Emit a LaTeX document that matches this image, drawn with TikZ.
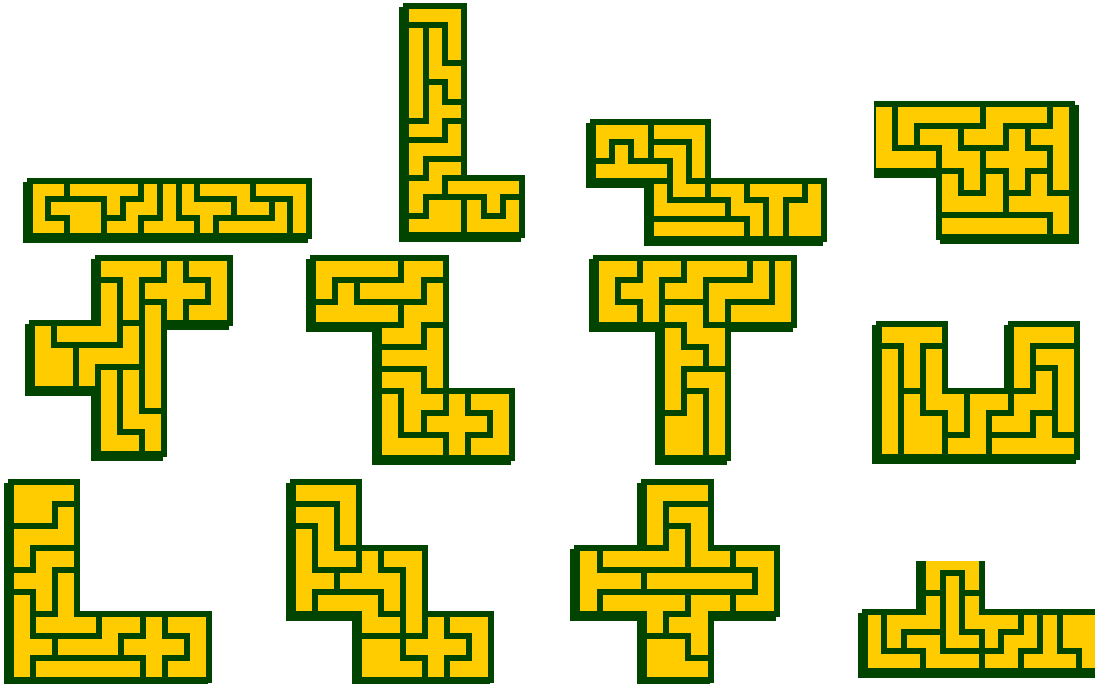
\documentclass[tikz,border=0pt]{standalone}
\definecolor{tileyellow}{HTML}{FFCC00}
\definecolor{wallgreen}{HTML}{004400}
\tikzset{
  tile/.style={fill=tileyellow, draw=wallgreen, line width=6pt, line join=miter},
  shade/.style={fill=wallgreen, draw=wallgreen, line width=6pt, line join=miter}
}
\begin{document}
\begin{tikzpicture}[x=1pt, y=-1pt]
\useasboundingbox (0,0) rectangle (1095,683);

% I scaled by 3
\begin{scope}[shift={(29.7,180.7)}, x=18.6pt, y=-18.45pt]
  \filldraw[shade, shift={(-4pt,-4pt)}] (0,0) -- (15,0) -- (15,3) -- (0,3) -- cycle;
  \filldraw[tile] (0,0) -- (2,0) -- (2,1) -- (1,1) -- (1,2) -- (2,2) -- (2,3) -- (0,3) -- cycle;
  \filldraw[tile] (1,1) -- (4,1) -- (4,3) -- (2,3) -- (2,2) -- (1,2) -- cycle;
  \filldraw[tile] (2,0) -- (6,0) -- (6,1) -- (5,1) -- (5,2) -- (4,2) -- (4,1) -- (2,1) -- cycle;
  \filldraw[tile] (6,0) -- (7,0) -- (7,2) -- (6,2) -- (6,3) -- (4,3) -- (4,2) -- (5,2) -- (5,1) -- (6,1) -- cycle;
  \filldraw[tile] (7,0) -- (8,0) -- (8,2) -- (9,2) -- (9,3) -- (6,3) -- (6,2) -- (7,2) -- cycle;
  \filldraw[tile] (8,0) -- (9,0) -- (9,1) -- (11,1) -- (11,2) -- (10,2) -- (10,3) -- (9,3) -- (9,2) -- (8,2) -- cycle;
  \filldraw[tile] (9,0) -- (12,0) -- (12,1) -- (13,1) -- (13,2) -- (11,2) -- (11,1) -- (9,1) -- cycle;
  \filldraw[tile] (13,1) -- (14,1) -- (14,3) -- (10,3) -- (10,2) -- (13,2) -- cycle;
  \filldraw[tile] (12,0) -- (15,0) -- (15,3) -- (14,3) -- (14,1) -- (12,1) -- cycle;
\end{scope}

% L scaled by 3
\begin{scope}[shift={(406.4,6)}, x=19.3pt, y=-19.1pt]
  \filldraw[shade, shift={(-4pt,-4pt)}] (0,0) -- (3,0) -- (3,9) -- (6,9) -- (6,12) -- (0,12) -- cycle;
  \filldraw[tile] (0,0) -- (3,0) -- (3,3) -- (2,3) -- (2,1) -- (0,1) -- cycle;
  \filldraw[tile] (0,1) -- (1,1) -- (1,6) -- (0,6) -- cycle;
  \filldraw[tile] (1,1) -- (2,1) -- (2,3) -- (3,3) -- (3,5) -- (2,5) -- (2,4) -- (1,4) -- cycle;
  \filldraw[tile] (1,4) -- (2,4) -- (2,5) -- (3,5) -- (3,6) -- (2,6) -- (2,7) -- (0,7) -- (0,6) -- (1,6) -- cycle;
  \filldraw[tile] (2,6) -- (3,6) -- (3,8) -- (1,8) -- (1,9) -- (0,9) -- (0,7) -- (2,7) -- cycle;
  \filldraw[tile] (1,8) -- (3,8) -- (3,9) -- (2,9) -- (2,10) -- (1,10) -- (1,11) -- (0,11) -- (0,9) -- (1,9) -- cycle;
  \filldraw[tile] (1,10) -- (3,10) -- (3,12) -- (0,12) -- (0,11) -- (1,11) -- cycle;
  \filldraw[tile] (2,9) -- (6,9) -- (6,10) -- (5,10) -- (5,11) -- (4,11) -- (4,10) -- (2,10) -- cycle;
  \filldraw[tile] (3,10) -- (4,10) -- (4,11) -- (5,11) -- (5,10) -- (6,10) -- (6,12) -- (3,12) -- cycle;
\end{scope}

% N scaled by 3
\begin{scope}[shift={(592.7,122.4)}, x=19.28pt, y=-19.37pt]
  \filldraw[shade, shift={(-4pt,-4pt)}] (0,0) -- (6,0) -- (6,3) -- (12,3) -- (12,6) -- (3,6) -- (3,3) -- (0,3) -- cycle;
  \filldraw[tile] (0,0) -- (3,0) -- (3,2) -- (2,2) -- (2,1) -- (1,1) -- (1,2) -- (0,2) -- cycle;
  \filldraw[tile] (1,1) -- (2,1) -- (2,2) -- (4,2) -- (4,3) -- (0,3) -- (0,2) -- (1,2) -- cycle;
  \filldraw[tile] (3,0) -- (6,0) -- (6,3) -- (5,3) -- (5,1) -- (3,1) -- cycle;
  \filldraw[tile] (3,1) -- (5,1) -- (5,3) -- (6,3) -- (6,4) -- (4,4) -- (4,2) -- (3,2) -- cycle;
  \filldraw[tile] (3,3) -- (4,3) -- (4,4) -- (7,4) -- (7,5) -- (3,5) -- cycle;
  \filldraw[tile] (3,5) -- (8,5) -- (8,6) -- (3,6) -- cycle;
  \filldraw[tile] (6,3) -- (8,3) -- (8,4) -- (9,4) -- (9,6) -- (8,6) -- (8,5) -- (7,5) -- (7,4) -- (6,4) -- cycle;
  \filldraw[tile] (8,3) -- (11,3) -- (11,4) -- (10,4) -- (10,6) -- (9,6) -- (9,4) -- (8,4) -- cycle;
  \filldraw[tile] (11,3) -- (12,3) -- (12,6) -- (10,6) -- (10,4) -- (11,4) -- cycle;
\end{scope}

% P scaled by 3
\begin{scope}
\clip (874,0) rectangle (1095,683);
\begin{scope}[shift={(872.5,104)}, x=22.17pt, y=-22.17pt]
  \filldraw[shade, shift={(4pt,-4pt)}] (0,0) -- (9,0) -- (9,6) -- (3,6) -- (3,3) -- (0,3) -- cycle;
  \filldraw[tile] (0,0) -- (1,0) -- (1,2) -- (3,2) -- (3,3) -- (0,3) -- cycle;
  \filldraw[tile] (1,0) -- (5,0) -- (5,1) -- (2,1) -- (2,2) -- (1,2) -- cycle;
  \filldraw[tile] (5,0) -- (8,0) -- (8,1) -- (6,1) -- (6,2) -- (4,2) -- (4,1) -- (5,1) -- cycle;
  \filldraw[tile] (8,0) -- (9,0) -- (9,4) -- (8,4) -- (8,2) -- (7,2) -- (7,1) -- (8,1) -- cycle;
  \filldraw[tile] (2,1) -- (4,1) -- (4,2) -- (5,2) -- (5,4) -- (4,4) -- (4,3) -- (3,3) -- (3,2) -- (2,2) -- cycle;
  \filldraw[tile] (6,1) -- (7,1) -- (7,2) -- (8,2) -- (8,3) -- (7,3) -- (7,4) -- (6,4) -- (6,3) -- (5,3) -- (5,2) -- (6,2) -- cycle;
  \filldraw[tile] (3,3) -- (4,3) -- (4,4) -- (5,4) -- (5,3) -- (6,3) -- (6,5) -- (3,5) -- cycle;
  \filldraw[tile] (3,5) -- (8,5) -- (8,6) -- (3,6) -- cycle;
  \filldraw[tile] (7,3) -- (8,3) -- (8,4) -- (9,4) -- (9,6) -- (8,6) -- (8,5) -- (6,5) -- (6,4) -- (7,4) -- cycle;
\end{scope}
\end{scope}

% F scaled by 3
\begin{scope}[shift={(32.4,258)}, x=21.99pt, y=-21.8pt]
  \filldraw[shade, shift={(-4pt,-4pt)}] (3,0) -- (9,0) -- (9,3) -- (6,3) -- (6,9) -- (3,9) -- (3,6) -- (0,6) -- (0,3) -- (3,3) -- cycle;
  \filldraw[tile] (3,0) -- (6,0) -- (6,1) -- (5,1) -- (5,3) -- (4,3) -- (4,1) -- (3,1) -- cycle;
  \filldraw[tile] (6,0) -- (7,0) -- (7,1) -- (8,1) -- (8,2) -- (7,2) -- (7,3) -- (6,3) -- (6,2) -- (5,2) -- (5,1) -- (6,1) -- cycle;
  \filldraw[tile] (7,0) -- (9,0) -- (9,3) -- (7,3) -- (7,2) -- (8,2) -- (8,1) -- (7,1) -- cycle;
  \filldraw[tile] (3,1) -- (4,1) -- (4,4) -- (1,4) -- (1,3) -- (3,3) -- cycle;
  \filldraw[tile] (5,2) -- (6,2) -- (6,7) -- (5,7) -- cycle;
  \filldraw[tile] (4,3) -- (5,3) -- (5,5) -- (3,5) -- (3,6) -- (2,6) -- (2,4) -- (4,4) -- cycle;
  \filldraw[tile] (0,3) -- (1,3) -- (1,4) -- (2,4) -- (2,6) -- (0,6) -- cycle;
  \filldraw[tile] (3,5) -- (4,5) -- (4,8) -- (5,8) -- (5,9) -- (3,9) -- cycle;
  \filldraw[tile] (4,5) -- (5,5) -- (5,7) -- (6,7) -- (6,9) -- (5,9) -- (5,8) -- (4,8) -- cycle;
\end{scope}

% Z scaled by 3
\begin{scope}[shift={(312.7,258)}, x=22.18pt, y=-22.18pt]
  \filldraw[shade, shift={(-4pt,-4pt)}] (0,0) -- (6,0) -- (6,6) -- (9,6) -- (9,9) -- (3,9) -- (3,3) -- (0,3) -- cycle;
  \filldraw[tile] (0,0) -- (4,0) -- (4,1) -- (1,1) -- (1,2) -- (0,2) -- cycle;
  \filldraw[tile] (4,0) -- (6,0) -- (6,1) -- (5,1) -- (5,2) -- (2,2) -- (2,1) -- (4,1) -- cycle;
  \filldraw[tile] (1,1) -- (2,1) -- (2,2) -- (4,2) -- (4,3) -- (0,3) -- (0,2) -- (1,2) -- cycle;
  \filldraw[tile] (5,1) -- (6,1) -- (6,3) -- (5,3) -- (5,4) -- (3,4) -- (3,3) -- (4,3) -- (4,2) -- (5,2) -- cycle;
  \filldraw[tile] (5,3) -- (6,3) -- (6,6) -- (5,6) -- (5,5) -- (3,5) -- (3,4) -- (5,4) -- cycle;
  \filldraw[tile] (3,5) -- (5,5) -- (5,6) -- (6,6) -- (6,7) -- (5,7) -- (5,8) -- (4,8) -- (4,6) -- (3,6) -- cycle;
  \filldraw[tile] (3,6) -- (4,6) -- (4,8) -- (6,8) -- (6,9) -- (3,9) -- cycle;
  \filldraw[tile] (6,6) -- (7,6) -- (7,7) -- (8,7) -- (8,8) -- (7,8) -- (7,9) -- (6,9) -- (6,8) -- (5,8) -- (5,7) -- (6,7) -- cycle;
  \filldraw[tile] (7,6) -- (9,6) -- (9,9) -- (7,9) -- (7,8) -- (8,8) -- (8,7) -- (7,7) -- cycle;
\end{scope}

% T scaled by 3
\begin{scope}[shift={(596,258)}, x=22pt, y=-22.18pt]
  \filldraw[shade, shift={(-4pt,-4pt)}] (0,0) -- (9,0) -- (9,3) -- (6,3) -- (6,9) -- (3,9) -- (3,3) -- (0,3) -- cycle;
  \filldraw[tile] (0,0) -- (2,0) -- (2,1) -- (1,1) -- (1,2) -- (2,2) -- (2,3) -- (0,3) -- cycle;
  \filldraw[tile] (2,0) -- (4,0) -- (4,1) -- (3,1) -- (3,3) -- (2,3) -- (2,2) -- (1,2) -- (1,1) -- (2,1) -- cycle;
  \filldraw[tile] (4,0) -- (7,0) -- (7,1) -- (5,1) -- (5,2) -- (3,2) -- (3,1) -- (4,1) -- cycle;
  \filldraw[tile] (7,0) -- (8,0) -- (8,2) -- (6,2) -- (6,3) -- (5,3) -- (5,1) -- (7,1) -- cycle;
  \filldraw[tile] (8,0) -- (9,0) -- (9,3) -- (6,3) -- (6,2) -- (8,2) -- cycle;
  \filldraw[tile] (3,2) -- (5,2) -- (5,3) -- (6,3) -- (6,5) -- (5,5) -- (5,4) -- (4,4) -- (4,3) -- (3,3) -- cycle;
  \filldraw[tile] (3,3) -- (4,3) -- (4,4) -- (5,4) -- (5,5) -- (4,5) -- (4,7) -- (3,7) -- cycle;
  \filldraw[tile] (4,5) -- (6,5) -- (6,9) -- (5,9) -- (5,6) -- (4,6) -- cycle;
  \filldraw[tile] (4,6) -- (5,6) -- (5,9) -- (3,9) -- (3,7) -- (4,7) -- cycle;
\end{scope}

% U scaled by 3
\begin{scope}[shift={(879,324)}, x=22pt, y=-22.17pt]
  \filldraw[shade, shift={(-4pt,-4pt)}] (0,0) -- (3,0) -- (3,3) -- (6,3) -- (6,0) -- (9,0) -- (9,6) -- (0,6) -- cycle;
  \filldraw[tile] (0,0) -- (3,0) -- (3,1) -- (2,1) -- (2,3) -- (1,3) -- (1,1) -- (0,1) -- cycle;
  \filldraw[tile] (0,1) -- (1,1) -- (1,6) -- (0,6) -- cycle;
  \filldraw[tile] (1,3) -- (2,3) -- (2,4) -- (3,4) -- (3,6) -- (1,6) -- cycle;
  \filldraw[tile] (2,1) -- (3,1) -- (3,3) -- (4,3) -- (4,5) -- (3,5) -- (3,4) -- (2,4) -- cycle;
  \filldraw[tile] (4,3) -- (6,3) -- (6,4) -- (5,4) -- (5,6) -- (3,6) -- (3,5) -- (4,5) -- cycle;
  \filldraw[tile] (6,0) -- (9,0) -- (9,1) -- (7,1) -- (7,3) -- (6,3) -- cycle;
  \filldraw[tile] (7,1) -- (9,1) -- (9,5) -- (8,5) -- (8,2) -- (7,2) -- cycle;
  \filldraw[tile] (7,2) -- (8,2) -- (8,4) -- (7,4) -- (7,5) -- (5,5) -- (5,4) -- (6,4) -- (6,3) -- (7,3) -- cycle;
  \filldraw[tile] (7,4) -- (8,4) -- (8,5) -- (9,5) -- (9,6) -- (5,6) -- (5,5) -- (7,5) -- cycle;
\end{scope}

% V scaled by 3
\begin{scope}[shift={(11,481.7)}, x=22pt, y=-22pt]
  \filldraw[shade, shift={(-4pt,-4pt)}] (0,0) -- (3,0) -- (3,6) -- (9,6) -- (9,9) -- (0,9) -- cycle;
  \filldraw[tile] (0,0) -- (3,0) -- (3,1) -- (2,1) -- (2,2) -- (0,2) -- cycle;
  \filldraw[tile] (2,1) -- (3,1) -- (3,3) -- (1,3) -- (1,4) -- (0,4) -- (0,2) -- (2,2) -- cycle;
  \filldraw[tile] (1,3) -- (3,3) -- (3,4) -- (2,4) -- (2,6) -- (1,6) -- (1,5) -- (0,5) -- (0,4) -- (1,4) -- cycle;
  \filldraw[tile] (2,4) -- (3,4) -- (3,6) -- (4,6) -- (4,7) -- (1,7) -- (1,6) -- (2,6) -- cycle;
  \filldraw[tile] (0,5) -- (1,5) -- (1,7) -- (2,7) -- (2,8) -- (1,8) -- (1,9) -- (0,9) -- cycle;
  \filldraw[tile] (1,8) -- (6,8) -- (6,9) -- (1,9) -- cycle;
  \filldraw[tile] (4,6) -- (6,6) -- (6,7) -- (5,7) -- (5,8) -- (2,8) -- (2,7) -- (4,7) -- cycle;
  \filldraw[tile] (6,6) -- (7,6) -- (7,7) -- (8,7) -- (8,8) -- (7,8) -- (7,9) -- (6,9) -- (6,8) -- (5,8) -- (5,7) -- (6,7) -- cycle;
  \filldraw[tile] (7,6) -- (9,6) -- (9,9) -- (7,9) -- (7,8) -- (8,8) -- (8,7) -- (7,7) -- cycle;
\end{scope}

% W scaled by 3
\begin{scope}[shift={(293.4,481.7)}, x=22pt, y=-22pt]
  \filldraw[shade, shift={(-4pt,-4pt)}] (0,0) -- (3,0) -- (3,3) -- (6,3) -- (6,6) -- (9,6) -- (9,9) -- (3,9) -- (3,6) -- (0,6) -- cycle;
  \filldraw[tile] (0,0) -- (3,0) -- (3,3) -- (2,3) -- (2,1) -- (0,1) -- cycle;
  \filldraw[tile] (0,1) -- (2,1) -- (2,3) -- (3,3) -- (3,4) -- (1,4) -- (1,2) -- (0,2) -- cycle;
  \filldraw[tile] (0,2) -- (1,2) -- (1,4) -- (2,4) -- (2,5) -- (1,5) -- (1,6) -- (0,6) -- cycle;
  \filldraw[tile] (3,3) -- (4,3) -- (4,4) -- (5,4) -- (5,6) -- (4,6) -- (4,5) -- (2,5) -- (2,4) -- (3,4) -- cycle;
  \filldraw[tile] (4,3) -- (6,3) -- (6,7) -- (5,7) -- (5,4) -- (4,4) -- cycle;
  \filldraw[tile] (1,5) -- (4,5) -- (4,6) -- (5,6) -- (5,7) -- (3,7) -- (3,6) -- (1,6) -- cycle;
  \filldraw[tile] (3,7) -- (5,7) -- (5,8) -- (6,8) -- (6,9) -- (3,9) -- cycle;
  \filldraw[tile] (6,6) -- (7,6) -- (7,7) -- (8,7) -- (8,8) -- (7,8) -- (7,9) -- (6,9) -- (6,8) -- (5,8) -- (5,7) -- (6,7) -- cycle;
  \filldraw[tile] (7,6) -- (9,6) -- (9,9) -- (7,9) -- (7,8) -- (8,8) -- (8,7) -- (7,7) -- cycle;
\end{scope}

% X scaled by 3
\begin{scope}[shift={(577.4,481.7)}, x=22.2pt, y=-22pt]
  \filldraw[shade, shift={(-4pt,-4pt)}] (3,0) -- (6,0) -- (6,3) -- (9,3) -- (9,6) -- (6,6) -- (6,9) -- (3,9) -- (3,6) -- (0,6) -- (0,3) -- (3,3) -- cycle;
  \filldraw[tile] (3,0) -- (6,0) -- (6,1) -- (4,1) -- (4,3) -- (3,3) -- cycle;
  \filldraw[tile] (4,1) -- (6,1) -- (6,3) -- (7,3) -- (7,4) -- (5,4) -- (5,2) -- (4,2) -- cycle;
  \filldraw[tile] (4,2) -- (5,2) -- (5,4) -- (1,4) -- (1,3) -- (4,3) -- cycle;
  \filldraw[tile] (0,3) -- (1,3) -- (1,4) -- (3,4) -- (3,5) -- (1,5) -- (1,6) -- (0,6) -- cycle;
  \filldraw[tile] (3,4) -- (8,4) -- (8,5) -- (3,5) -- cycle;
  \filldraw[tile] (7,3) -- (9,3) -- (9,6) -- (7,6) -- (7,5) -- (8,5) -- (8,4) -- (7,4) -- cycle;
  \filldraw[tile] (1,5) -- (5,5) -- (5,6) -- (4,6) -- (4,7) -- (3,7) -- (3,6) -- (1,6) -- cycle;
  \filldraw[tile] (5,5) -- (7,5) -- (7,6) -- (6,6) -- (6,8) -- (5,8) -- (5,7) -- (4,7) -- (4,6) -- (5,6) -- cycle;
  \filldraw[tile] (3,7) -- (5,7) -- (5,8) -- (6,8) -- (6,9) -- (3,9) -- cycle;
\end{scope}

% Y scaled by 3
\begin{scope}
\clip (0,561.5) rectangle (1095,683);
\begin{scope}[shift={(864.8,553.6)}, x=19.5pt, y=-19.5pt]
  \filldraw[shade, shift={(-4pt,-4pt)}] (3,0) -- (6,0) -- (6,3) -- (12,3) -- (12,6) -- (0,6) -- (0,3) -- (3,3) -- cycle;
  \filldraw[tile] (3,0) -- (6,0) -- (6,2) -- (5,2) -- (5,1) -- (4,1) -- (4,2) -- (3,2) -- cycle;
  \filldraw[tile] (4,1) -- (5,1) -- (5,4) -- (6,4) -- (6,5) -- (4,5) -- cycle;
  \filldraw[tile] (3,2) -- (4,2) -- (4,4) -- (2,4) -- (2,5) -- (1,5) -- (1,3) -- (3,3) -- cycle;
  \filldraw[tile] (5,2) -- (6,2) -- (6,3) -- (8,3) -- (8,4) -- (7,4) -- (7,5) -- (6,5) -- (6,4) -- (5,4) -- cycle;
  \filldraw[tile] (0,3) -- (1,3) -- (1,5) -- (3,5) -- (3,6) -- (0,6) -- cycle;
  \filldraw[tile] (2,4) -- (4,4) -- (4,5) -- (6,5) -- (6,6) -- (3,6) -- (3,5) -- (2,5) -- cycle;
  \filldraw[tile] (8,3) -- (9,3) -- (9,5) -- (8,5) -- (8,6) -- (6,6) -- (6,5) -- (7,5) -- (7,4) -- (8,4) -- cycle;
  \filldraw[tile] (9,3) -- (10,3) -- (10,5) -- (11,5) -- (11,6) -- (8,6) -- (8,5) -- (9,5) -- cycle;
  \filldraw[tile] (10,3) -- (12,3) -- (12,6) -- (11,6) -- (11,5) -- (10,5) -- cycle;
\end{scope}
\end{scope}

\end{tikzpicture}
\end{document}
